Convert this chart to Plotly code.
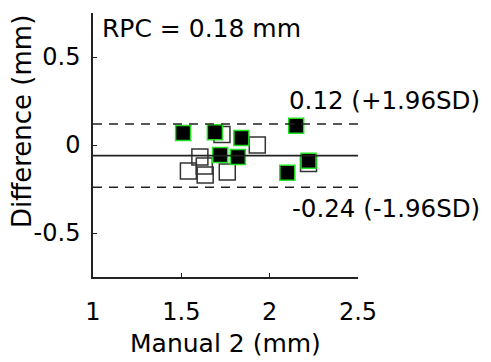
import plotly.graph_objects as go

# Data
filled_x = [1.51, 1.69, 1.84, 1.72, 1.82, 2.15, 2.22, 2.10]
filled_y = [0.068, 0.072, 0.040, -0.057, -0.068, 0.110, -0.090, -0.158]
open_x = [1.73, 1.93, 1.605, 1.54, 1.63, 1.635, 1.76, 2.22]
open_y = [0.060, 0.000, -0.068, -0.148, -0.120, -0.170, -0.153, -0.105]

mean_diff = -0.06
upper_loa = 0.12
lower_loa = -0.24
rpc = 0.18

x_ticks = [1, 1.5, 2, 2.5]
x_tick_labels = ["1", "1.5", "2", "2.5"]
y_ticks = [-0.5, 0, 0.5]
y_tick_labels = ["-0.5", "0", "0.5"]

FONT = "DejaVu Sans"

fig = go.Figure()
fig.add_trace(go.Scatter(
    x=open_x, y=open_y, mode="markers",
    marker=dict(symbol="square-open", size=16, color="#333333",
                line=dict(width=1.5, color="#333333")),
    showlegend=False,
))
fig.add_trace(go.Scatter(
    x=filled_x, y=filled_y, mode="markers",
    marker=dict(symbol="square", size=15, color="black",
                line=dict(width=1.5, color="#22e022")),
    showlegend=False,
))

fig.add_shape(type="line", xref="paper", x0=0, x1=1, yref="y",
              y0=mean_diff, y1=mean_diff, line=dict(color="#222222", width=1.8))
for v in (upper_loa, lower_loa):
    fig.add_shape(type="line", xref="paper", x0=0, x1=1, yref="y",
                  y0=v, y1=v, line=dict(color="#222222", width=1.5, dash="9px,7px"))

fig.add_annotation(text=f"RPC = {rpc:.2f} mm", xref="paper", yref="paper",
                   x=0.026, y=0.943, xanchor="left", yanchor="middle",
                   showarrow=False, font=dict(family=FONT, size=25, color="black"))
fig.add_annotation(text=f"{upper_loa:.2f} (+1.96SD)", xref="paper", yref="paper",
                   x=1.468, y=0.67, xanchor="right", yanchor="middle",
                   showarrow=False, font=dict(family=FONT, size=24.5, color="black"))
fig.add_annotation(text=f"{lower_loa:.2f} (-1.96SD)", xref="paper", yref="paper",
                   x=1.468, y=0.261, xanchor="right", yanchor="middle",
                   showarrow=False, font=dict(family=FONT, size=24.5, color="black"))
fig.add_annotation(text="Difference (mm)", xref="paper", yref="paper",
                   x=-0.268, y=0.591, textangle=-90, xanchor="center", yanchor="middle",
                   showarrow=False, font=dict(family=FONT, size=26, color="black"))
fig.add_annotation(text="Manual 2 (mm)", xref="paper", yref="paper",
                   x=0.5, y=-0.25, xanchor="center", yanchor="middle",
                   showarrow=False, font=dict(family=FONT, size=25, color="black"))

# page body has an 8px margin, so the figure is 8px smaller than the window
fig.update_layout(
    width=483, height=354,
    margin=dict(l=85, r=133, t=5, b=85),
    paper_bgcolor="white", plot_bgcolor="white",
    font=dict(family=FONT, size=24, color="black"),
    xaxis=dict(range=[1, 2.5], tickvals=x_ticks, ticktext=x_tick_labels,
               showgrid=False, zeroline=False, showline=True, linecolor="#222222",
               linewidth=1.5, ticks="inside", ticklen=4, tickcolor="#222222",
               ticklabelstandoff=12, tickfont=dict(family=FONT, size=24)),
    yaxis=dict(range=[-0.75, 0.75], tickvals=y_ticks, ticktext=y_tick_labels,
               showgrid=False, zeroline=False, showline=True, linecolor="#222222",
               linewidth=1.5, ticks="inside", ticklen=4, tickcolor="#222222",
               ticklabelstandoff=6, tickfont=dict(family=FONT, size=24)),
)

fig.write_html("out.html")
